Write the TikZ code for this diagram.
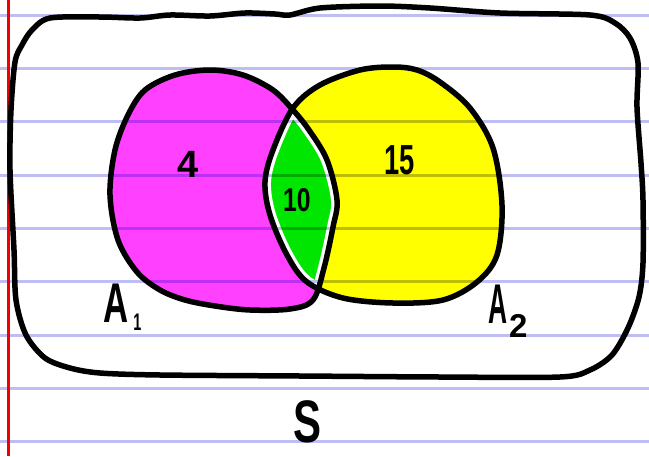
\documentclass[tikz,border=0pt]{standalone}
\usepackage{fontspec}
\setmainfont{Liberation Sans}
\begin{document}
\begin{tikzpicture}[x=1pt,y=-1pt]
\definecolor{magentafill}{RGB}{255,64,255}
\definecolor{yellowfill}{RGB}{255,255,0}
\definecolor{greenfill}{RGB}{0,230,0}
\definecolor{ruled}{RGB}{190,190,245}
\definecolor{marginred}{RGB}{240,0,0}
\tikzset{
  outline/.style={line width=5.5pt, line join=round, line cap=round},
  lbl/.style={inner sep=0pt, font=\bfseries},
}
\def\Apath{plot[smooth cycle, tension=0.55] coordinates {(210,70) (243,75) (273,90) (293,110) (309,130) (327,160) (337,200) (333,227) (324,268) (313,300) (290,309) (250,310) (215,306) (185,300) (160,290) (137,272) (118,240) (110,195) (115,150) (128,115) (145,90) (175,75)}}
\def\Bpath{plot[smooth cycle, tension=0.55] coordinates {(393,67) (417,70) (440,82) (470,108) (493,148) (502,205) (497,255) (477,282) (443,300) (393,303) (343,298) (307,282) (287,255) (270,215) (265,182) (273,150) (293,108) (320,85) (360,70)}}
\def\Spath{plot[smooth cycle, tension=0.5] coordinates {(50,18) (100,17) (140,18) (170,15) (210,16) (245,13) (275,14) (290,15) (320,8) (380,6) (430,8) (500,13) (590,15) (615,23) (630,38) (638,63) (637,107) (641,163) (643,200) (643,263) (639,297) (628,328) (612,355) (590,370) (560,377) (440,377) (300,376) (160,375) (100,373) (70,368) (45,358) (26,335) (16,300) (14,250) (10,170) (11,110) (15,62) (22,45) (32,30)}}
\useasboundingbox (0,0) rectangle (649,456);
\fill[white] (0,0) rectangle (649,456);
% fills
\fill[magentafill] \Apath;
\fill[yellowfill] \Bpath;
\begin{scope}
  \clip \Apath;
  \clip \Bpath;
  \fill[greenfill] (0,0) rectangle (649,456);
  \draw[white, line width=12pt] \Apath;
  \draw[white, line width=12pt] \Bpath;
\end{scope}
% ruled paper
\begin{scope}[blend mode=multiply]
  \foreach \yy in {15,68.3,121.7,175,228.3,281.7,335,388.3,441.7}
    \draw[ruled, line width=3pt] (0,\yy) -- (649,\yy);
\end{scope}
\draw[marginred, line width=2.5pt] (8.5,0) -- (8.5,456);
% outlines
\draw[outline] \Spath;
\draw[outline] \Apath;
\draw[outline] \Bpath;
% labels
\node[lbl, font=\bfseries\fontsize{38}{40}\selectfont] (n4) at (188,164) {4};
\node[lbl, font=\bfseries\fontsize{42}{44}\selectfont] (n15) at (400,160) {\scalebox{0.65}[1]{15}};
\node[lbl, font=\bfseries\fontsize{33}{35}\selectfont] (n10) at (297,200) {\scalebox{0.75}[1]{10}};
\node[lbl, anchor=base west, font=\bfseries\fontsize{56}{58}\selectfont] (a1) at (103,322) {\scalebox{0.62}[1]{A}\hspace{5pt}\raisebox{-8pt}{\fontsize{24}{24}\selectfont\scalebox{0.6}[1]{1}}};
\node[lbl, anchor=base west, font=\bfseries\fontsize{56}{58}\selectfont] (a2) at (488,323) {\scalebox{0.47}[1]{A}\hspace{2pt}\raisebox{-14pt}{\fontsize{33}{33}\selectfont 2}};
\node[lbl, font=\bfseries\fontsize{60}{62}\selectfont] (s) at (308,422) {\scalebox{0.7}[1]{S}};
\end{tikzpicture}
\end{document}
